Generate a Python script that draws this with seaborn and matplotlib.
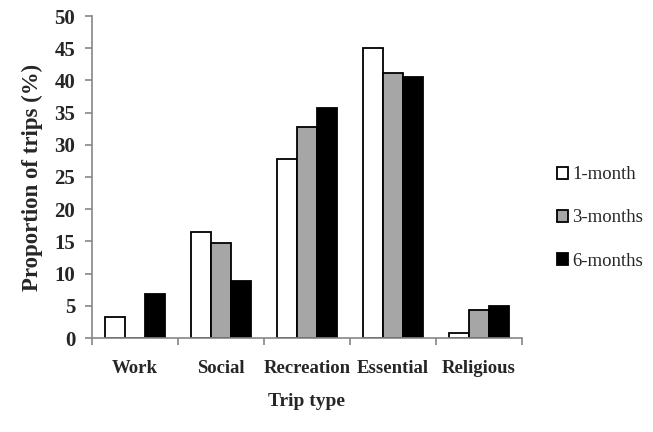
import matplotlib
matplotlib.use("Agg")
import matplotlib.pyplot as plt
import seaborn as sns
import pandas as pd

# Share of trips by purpose at each survey wave
trip_types = ["Work", "Social", "Recreation", "Essential", "Religious"]
periods = ["1-month", "3-months", "6-months"]
one_month = [3.3, 16.4, 27.8, 45.1, 0.7]
three_months = [0.0, 14.7, 32.7, 41.2, 4.3]
six_months = [6.9, 8.8, 35.7, 40.6, 5.0]
y_ticks = [0, 5, 10, 15, 20, 25, 30, 35, 40, 45, 50]

rows = []
for period, vals in zip(periods, [one_month, three_months, six_months]):
    for t, v in zip(trip_types, vals):
        rows.append({"Trip type": t, "Period": period, "Share": v})
df = pd.DataFrame(rows)

sns.set_theme(style="white")
plt.rcParams["font.family"] = ["Liberation Serif", "DejaVu Serif"]

fig = plt.figure(figsize=(6.53, 4.32), dpi=100)
ax = fig.add_axes([92 / 653, 1 - 338 / 432, (522 - 92) / 653, (338 - 16) / 432])

palette = {"1-month": "#ffffff", "3-months": "#a6a6a6", "6-months": "#000000"}
sns.barplot(data=df, x="Trip type", y="Share", hue="Period", order=trip_types,
            hue_order=periods, palette=palette, width=0.7, edgecolor="black",
            linewidth=1.3, saturation=1, ax=ax, legend=True)

spine_color = "#868686"
for side in ["top", "right"]:
    ax.spines[side].set_visible(False)
for side in ["left", "bottom"]:
    ax.spines[side].set_color(spine_color)
    ax.spines[side].set_linewidth(1.2)

ax.set_ylim(0, 50)
ax.set_yticks(y_ticks)
ax.set_yticklabels([str(v) for v in y_ticks], fontsize=15, fontweight="bold")
ax.tick_params(axis="y", which="major", direction="out", length=5, width=1.2,
               color=spine_color, left=True, pad=7)

ax.set_xlim(-0.5, len(trip_types) - 0.5)
ax.set_xticks([i - 0.5 for i in range(len(trip_types) + 1)])
ax.set_xticklabels([])
ax.set_xticks(range(len(trip_types)), minor=True)
ax.set_xticklabels(trip_types, minor=True, fontsize=13.5, fontweight="bold")
ax.tick_params(axis="x", which="major", direction="out", length=5, width=1.2,
               color=spine_color, bottom=True)
ax.tick_params(axis="x", which="minor", length=0, pad=16)

ax.set_ylabel("Proportion of trips (%)", fontsize=16.5, fontweight="bold", labelpad=8)
ax.set_xlabel("Trip type", fontsize=14, fontweight="bold", labelpad=11)

handles, labels = ax.get_legend_handles_labels()
ax.legend(handles, labels, loc="center left", bbox_to_anchor=(557 / 653, 1 - 218 / 432),
          bbox_transform=fig.transFigure, frameon=False, fontsize=13.5,
          handlelength=0.6, handleheight=0.6, handletextpad=0.2,
          labelspacing=1.4, borderaxespad=0, borderpad=0)

fig.savefig("out.png", dpi=100)
